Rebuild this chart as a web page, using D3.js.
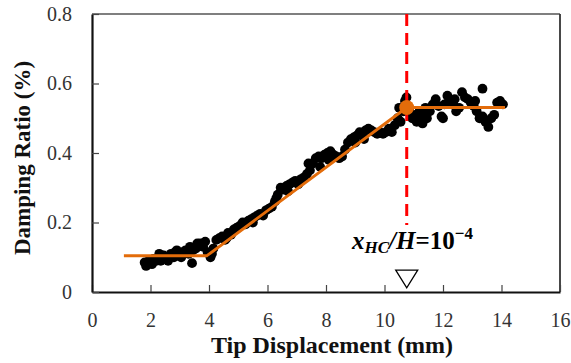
<!DOCTYPE html>
<html>
<head>
<meta charset="utf-8">
<script src="https://cdn.jsdelivr.net/npm/d3@7"></script>
<style>
  body { margin: 0; background: #fff; }
  svg { display: block; }
  svg text { font-family: "Liberation Serif", "Times New Roman", "DejaVu Serif", serif; }
</style>
</head>
<body>
<svg id="chart" width="571" height="363"></svg>
<script>
// ---- data ----
const xTicks = [0, 2, 4, 6, 8, 10, 12, 14, 16];
const yTicks = [0, 0.2, 0.4, 0.6, 0.8];
const xLabel = "Tip Displacement (mm)";
const yLabel = "Damping Ratio (%)";

// measured points [tip displacement (mm), damping ratio (%)]
const measured = [
  [1.8,.085],[1.85,.075],[1.95,.09],[2.0,.087],[2.05,.08],[2.1,.095],[2.2,.09],[2.3,.11],[2.35,.09],[2.45,.105],
  [2.55,.1],[2.6,.09],[2.7,.11],[2.8,.1],[2.85,.115],[2.9,.12],[2.95,.105],[3.05,.1],[3.1,.115],[3.2,.12],
  [3.3,.11],[3.35,.13],[3.42,.083],[3.45,.12],[3.55,.125],[3.6,.14],[3.7,.14],[3.8,.13],[3.87,.145],[3.95,.115],
  [4.05,.1],[4.1,.11],
  [4.15,.125],[4.25,.15],[4.35,.155],[4.45,.16],[4.55,.15],[4.6,.155],[4.65,.17],[4.75,.165],[4.85,.18],[4.95,.185],
  [5.05,.19],[5.15,.2],[5.25,.195],[5.35,.205],[5.45,.21],[5.5,.2],[5.55,.215],[5.65,.22],[5.75,.225],[5.85,.22],
  [5.95,.235],[6.05,.24],[6.15,.245],[6.25,.26],[6.3,.27],[6.35,.28],[6.45,.3],[6.55,.295],[6.65,.305],[6.7,.29],
  [6.75,.31],[6.85,.315],[6.95,.32],[7.05,.31],[7.15,.325],[7.25,.33],[7.35,.34],[7.4,.37],[7.45,.35],[7.55,.37],
  [7.65,.385],[7.75,.39],[7.8,.36],[7.85,.385],[7.95,.395],[8.05,.4],[8.1,.38],[8.15,.405],[8.25,.395],[8.35,.39],
  [8.45,.385],[8.55,.39],[8.65,.41],[8.75,.43],[8.85,.44],[8.95,.445],[9.0,.43],[9.05,.45],[9.15,.46],[9.25,.455],
  [9.3,.44],[9.35,.465],[9.45,.47],[9.55,.465],[9.65,.46],[9.75,.455],[9.85,.46],[9.95,.455],[10.05,.46],[10.15,.47],
  [10.25,.46],[10.35,.48],[10.45,.5],[10.5,.53],[10.55,.49],[10.65,.52],[10.7,.55],[10.75,.56],
  [10.85,.52],[10.95,.5],[11.0,.51],[11.1,.49],[11.2,.5],[11.2,.52],[11.3,.485],[11.35,.51],[11.4,.53],[11.45,.5],
  [11.55,.52],[11.65,.54],[11.75,.555],[11.85,.535],[11.95,.505],[12.0,.5],[12.05,.54],[12.15,.565],[12.25,.55],[12.35,.54],
  [12.4,.555],[12.45,.52],[12.55,.53],[12.65,.575],[12.75,.56],[12.85,.555],[12.95,.545],[13.05,.535],[13.1,.55],[13.15,.52],
  [13.25,.5],[13.35,.585],[13.35,.505],[13.45,.49],[13.55,.475],[13.65,.5],[13.75,.51],[13.85,.545],[13.95,.55],[14.05,.54]
];

// bilinear fit (vertices)
const fitX = [1.09, 3.92, 10.76, 14.12];
const fitY = [0.104, 0.104, 0.531, 0.531];
const kneeX = 10.76, kneeY = 0.531;
const markerX = 10.76;

// ---- chart ----
const svg = d3.select("#chart");
const x = d3.scaleLinear().domain([0, 16]).range([92, 560]);
const y = d3.scaleLinear().domain([0, 0.8]).range([292, 14]);

// frame top/right
svg.append("line").attr("x1", x(0)).attr("x2", x(16)).attr("y1", y(0.8)).attr("y2", y(0.8))
  .attr("stroke", "#555").attr("stroke-width", 1.5);
svg.append("line").attr("x1", x(16)).attr("x2", x(16)).attr("y1", y(0.8)).attr("y2", y(0))
  .attr("stroke", "#333").attr("stroke-width", 1.8);

// axes
const xAxis = d3.axisBottom(x).tickValues(xTicks).tickSizeInner(-7).tickSizeOuter(0).tickPadding(21)
  .tickFormat(d3.format("d"));
const yAxis = d3.axisLeft(y).tickValues(yTicks).tickSizeInner(-7).tickSizeOuter(0).tickPadding(20)
  .tickFormat(d => d === 0 ? "0" : d3.format(".1f")(d));

const gx = svg.append("g").attr("transform", `translate(0,${y(0)})`).call(xAxis);
const gy = svg.append("g").attr("transform", `translate(${x(0)},0)`).call(yAxis);
[gx, gy].forEach(g => {
  g.attr("font-family", null);
  g.select(".domain").attr("stroke", "#111").attr("stroke-width", 2.2);
  g.selectAll(".tick line").attr("stroke", "#444").attr("stroke-width", 1.2);
  g.selectAll(".tick text").attr("font-size", 20).attr("fill", "#333");
});

// scatter
svg.append("g").selectAll("circle").data(measured).join("circle")
  .attr("cx", d => x(d[0])).attr("cy", d => y(d[1])).attr("r", 4.9).attr("fill", "#000");

// fit line
const fitPts = fitX.map((v, i) => [v, fitY[i]]);
svg.append("path").datum(fitPts)
  .attr("d", d3.line().x(d => x(d[0])).y(d => y(d[1])))
  .attr("fill", "none").attr("stroke", "#E36C0A").attr("stroke-width", 3);

// red dashed vertical
svg.append("line").attr("x1", x(markerX)).attr("x2", x(markerX))
  .attr("y1", y(0.8)).attr("y2", y(0.193))
  .attr("stroke", "#FF0000").attr("stroke-width", 3).attr("stroke-dasharray", "12,7");

// knee dot
svg.append("circle").attr("cx", x(kneeX)).attr("cy", y(kneeY)).attr("r", 7.5).attr("fill", "#E36C0A");

// annotation text
const t = svg.append("text").attr("x", x(8.89)).attr("y", y(0.124))
  .attr("font-weight", "bold").attr("font-size", 25).attr("fill", "#000");
t.append("tspan").attr("font-style", "italic").text("x");
t.append("tspan").attr("font-style", "italic").attr("font-size", 17).attr("dy", 4).text("HC");
t.append("tspan").attr("font-style", "italic").attr("dy", -4).text("/H");
t.append("tspan").text("=10");
t.append("tspan").attr("font-size", 17).attr("dy", -10).text("\u22124");

// triangle marker
const tx = x(markerX), tTop = y(0.063), tBot = y(0.012);
svg.append("path")
  .attr("d", `M${tx - 11},${tTop} L${tx + 11},${tTop} L${tx},${tBot} Z`)
  .attr("fill", "#fff").attr("stroke", "#000").attr("stroke-width", 1.3);

// axis titles
svg.append("text").attr("x", 332).attr("y", 353).attr("text-anchor", "middle")
  .attr("font-weight", "bold").attr("font-size", 24).attr("fill", "#111")
  .text(xLabel);
svg.append("text").attr("transform", "translate(30,158) rotate(-90)").attr("text-anchor", "middle")
  .attr("font-weight", "bold").attr("font-size", 23).attr("fill", "#111")
  .text(yLabel);
</script>
</body>
</html>
